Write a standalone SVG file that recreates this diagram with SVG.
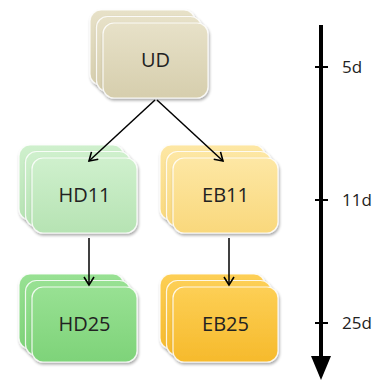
<svg xmlns="http://www.w3.org/2000/svg" width="387" height="381" viewBox="0 0 387 381">
  <defs>
    <linearGradient id="gUD" x1="0" y1="0" x2="0" y2="1">
      <stop offset="0" stop-color="#e7e1c8"/>
      <stop offset="1" stop-color="#d6cead"/>
    </linearGradient>
    <linearGradient id="gHD11" x1="0" y1="0" x2="0" y2="1">
      <stop offset="0" stop-color="#cff0cd"/>
      <stop offset="1" stop-color="#b6e3b3"/>
    </linearGradient>
    <linearGradient id="gEB11" x1="0" y1="0" x2="0" y2="1">
      <stop offset="0" stop-color="#fde7a4"/>
      <stop offset="1" stop-color="#f9d87c"/>
    </linearGradient>
    <linearGradient id="gHD25" x1="0" y1="0" x2="0" y2="1">
      <stop offset="0" stop-color="#98e193"/>
      <stop offset="1" stop-color="#7ed379"/>
    </linearGradient>
    <linearGradient id="gEB25" x1="0" y1="0" x2="0" y2="1">
      <stop offset="0" stop-color="#fdcf55"/>
      <stop offset="1" stop-color="#f6ba2c"/>
    </linearGradient>
    <filter id="shadow" x="-10%" y="-10%" width="125%" height="130%">
      <feGaussianBlur in="SourceAlpha" stdDeviation="1.5"/>
      <feOffset dx="1" dy="2" result="b"/>
      <feComponentTransfer><feFuncA type="linear" slope="0.35"/></feComponentTransfer>
      <feMerge><feMergeNode/><feMergeNode in="SourceGraphic"/></feMerge>
    </filter>
    <marker id="open" markerWidth="12" markerHeight="12" refX="9" refY="6" orient="auto" markerUnits="userSpaceOnUse">
      <path d="M1,1 L9,6 L1,11" fill="none" stroke="#000" stroke-width="1.6"/>
    </marker>
    <marker id="solid" markerWidth="26" markerHeight="22" refX="0" refY="10" orient="auto" markerUnits="userSpaceOnUse">
      <path d="M0,0 L24,10 L0,20 Z" fill="#000"/>
    </marker>
  </defs>
  <style>
    .card { stroke: rgba(255,255,255,0.85); stroke-width: 1.2; filter: url(#shadow); }
    .lbl { font-family: "Open Sans", "Noto Sans", "Liberation Sans", sans-serif; font-size: 20px; fill: #222; text-anchor: middle; }
    .tlbl { font-family: "Open Sans", "Noto Sans", "Liberation Sans", sans-serif; font-size: 17px; fill: #222; }
    .edge { stroke: #000; stroke-width: 1.5; fill: none; marker-end: url(#open); }
  </style>

  <!-- node stacks: three offset rounded cards each -->
  <g id="UD">
    <rect class="card" x="90" y="10" width="105" height="75" rx="11" fill="url(#gUD)"/>
    <rect class="card" x="96.5" y="16.5" width="105" height="75" rx="11" fill="url(#gUD)"/>
    <rect class="card" x="103" y="23" width="105" height="75" rx="11" fill="url(#gUD)"/>
    <text class="lbl" x="155.5" y="67">UD</text>
  </g>
  <g id="HD11">
    <rect class="card" x="19" y="145" width="105" height="75" rx="11" fill="url(#gHD11)"/>
    <rect class="card" x="25.5" y="151.5" width="105" height="75" rx="11" fill="url(#gHD11)"/>
    <rect class="card" x="32" y="158" width="105" height="75" rx="11" fill="url(#gHD11)"/>
    <text class="lbl" x="84.5" y="202">HD11</text>
  </g>
  <g id="EB11">
    <rect class="card" x="160" y="145" width="105" height="75" rx="11" fill="url(#gEB11)"/>
    <rect class="card" x="166.5" y="151.5" width="105" height="75" rx="11" fill="url(#gEB11)"/>
    <rect class="card" x="173" y="158" width="105" height="75" rx="11" fill="url(#gEB11)"/>
    <text class="lbl" x="225.5" y="202">EB11</text>
  </g>
  <g id="HD25">
    <rect class="card" x="19" y="274" width="105" height="75" rx="11" fill="url(#gHD25)"/>
    <rect class="card" x="25.5" y="280.5" width="105" height="75" rx="11" fill="url(#gHD25)"/>
    <rect class="card" x="32" y="287" width="105" height="75" rx="11" fill="url(#gHD25)"/>
    <text class="lbl" x="84.5" y="331">HD25</text>
  </g>
  <g id="EB25">
    <rect class="card" x="160" y="274" width="105" height="75" rx="11" fill="url(#gEB25)"/>
    <rect class="card" x="166.5" y="280.5" width="105" height="75" rx="11" fill="url(#gEB25)"/>
    <rect class="card" x="173" y="287" width="105" height="75" rx="11" fill="url(#gEB25)"/>
    <text class="lbl" x="225.5" y="331">EB25</text>
  </g>

  <!-- connectors -->
  <g id="edges">
    <line class="edge" x1="155" y1="100" x2="89" y2="161"/>
    <line class="edge" x1="157" y1="100" x2="223" y2="161"/>
    <line class="edge" x1="89" y1="238" x2="89" y2="285"/>
    <line class="edge" x1="229" y1="238" x2="229" y2="285"/>
  </g>

  <!-- time axis -->
  <g id="timeline">
    <line x1="321" y1="25" x2="321" y2="356" stroke="#000" stroke-width="4" marker-end="url(#solid)"/>
    <line x1="315" y1="67" x2="328" y2="67" stroke="#000" stroke-width="2"/>
    <line x1="315" y1="200" x2="328" y2="200" stroke="#000" stroke-width="2"/>
    <line x1="315" y1="323" x2="328" y2="323" stroke="#000" stroke-width="2"/>
    <text class="tlbl" x="342" y="73">5d</text>
    <text class="tlbl" x="342" y="206">11d</text>
    <text class="tlbl" x="342" y="329">25d</text>
  </g>
</svg>
